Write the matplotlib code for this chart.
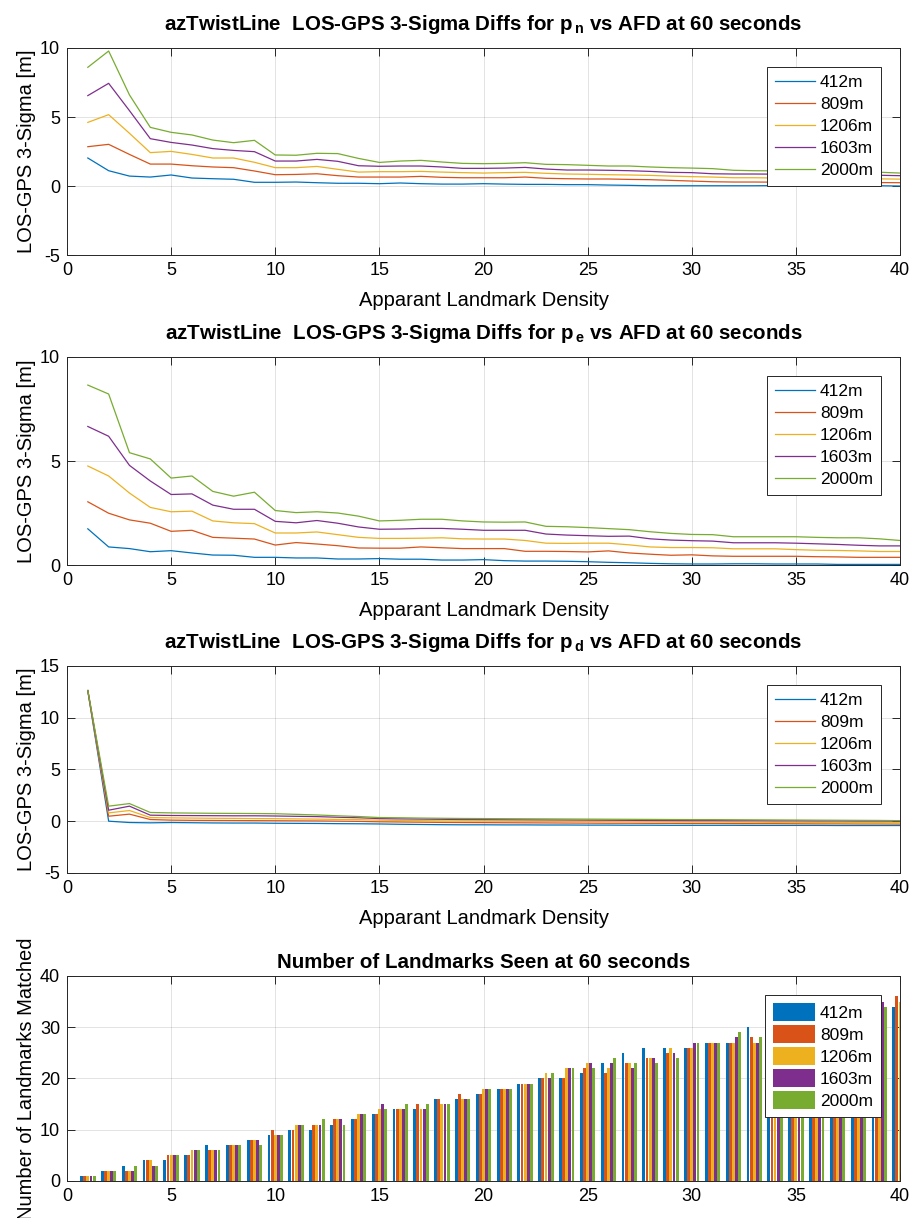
#!/usr/bin/env python3
"""
LOS-GPS 3-sigma diffs vs apparent landmark density (azTwistLine, 60 s).
"""

import numpy as np
import matplotlib
matplotlib.use('Agg')
import matplotlib.pyplot as plt

plt.rcParams['font.family'] = ['Liberation Sans', 'DejaVu Sans']
plt.rcParams['mathtext.fontset'] = 'custom'
plt.rcParams['mathtext.rm'] = 'Liberation Sans'
plt.rcParams['mathtext.bf'] = 'Liberation Sans:bold'
plt.rcParams['axes.unicode_minus'] = False

# ---------------- data ----------------
afd = list(range(1, 41))
labels = ['412m', '809m', '1206m', '1603m', '2000m']
colors = ['#0072BD', '#D95319', '#EDB120', '#7E2F8E', '#77AC30']

# p_n 3-sigma diffs [m]
pn_412 = [2.03, 1.11, 0.72, 0.65, 0.80, 0.58, 0.53, 0.49, 0.27, 0.27, 0.29, 0.24, 0.20, 0.20,
          0.17, 0.22, 0.17, 0.14, 0.14, 0.17, 0.14, 0.12, 0.12, 0.10, 0.10, 0.07, 0.05, 0.02,
          0.02, 0.02, 0.02, 0.02, 0.02, 0.03, 0.03, 0.03, 0.03, 0.02, 0.02, 0.00]
pn_809 = [2.85, 3.02, 2.29, 1.59, 1.59, 1.47, 1.38, 1.33, 1.09, 0.82, 0.84, 0.89, 0.75, 0.65,
          0.65, 0.65, 0.70, 0.63, 0.60, 0.60, 0.60, 0.65, 0.56, 0.53, 0.51, 0.51, 0.48, 0.46,
          0.41, 0.36, 0.31, 0.29, 0.29, 0.28, 0.28, 0.27, 0.26, 0.25, 0.25, 0.24]
pn_1206 = [4.61, 5.17, 3.82, 2.42, 2.51, 2.29, 2.03, 2.03, 1.72, 1.33, 1.33, 1.42, 1.21, 1.01,
           1.04, 1.04, 1.06, 1.01, 0.97, 0.94, 0.97, 0.99, 0.92, 0.87, 0.85, 0.82, 0.80, 0.77,
           0.72, 0.68, 0.65, 0.60, 0.60, 0.58, 0.57, 0.56, 0.55, 0.53, 0.52, 0.50]
pn_1603 = [6.55, 7.44, 5.46, 3.43, 3.16, 2.97, 2.71, 2.58, 2.49, 1.81, 1.81, 1.93, 1.79, 1.47,
           1.43, 1.45, 1.45, 1.38, 1.28, 1.28, 1.30, 1.35, 1.23, 1.16, 1.16, 1.14, 1.11, 1.06,
           0.99, 0.97, 0.89, 0.87, 0.87, 0.86, 0.85, 0.84, 0.82, 0.80, 0.78, 0.75]
pn_2000 = [8.60, 9.78, 6.60, 4.25, 3.89, 3.70, 3.33, 3.14, 3.31, 2.25, 2.23, 2.37, 2.35, 2.00,
           1.71, 1.81, 1.86, 1.74, 1.64, 1.62, 1.64, 1.69, 1.57, 1.55, 1.50, 1.45, 1.45, 1.38,
           1.33, 1.30, 1.26, 1.14, 1.11, 1.10, 1.10, 1.10, 1.08, 1.05, 1.00, 0.94]

# p_e 3-sigma diffs [m]
pe_412 = [1.74, 0.87, 0.79, 0.64, 0.69, 0.58, 0.48, 0.47, 0.37, 0.37, 0.34, 0.34, 0.29, 0.29,
          0.31, 0.28, 0.28, 0.24, 0.24, 0.26, 0.21, 0.19, 0.19, 0.18, 0.16, 0.13, 0.11, 0.08,
          0.06, 0.05, 0.05, 0.06, 0.06, 0.05, 0.05, 0.05, 0.03, 0.03, 0.03, 0.03]
pe_809 = [3.04, 2.49, 2.17, 2.01, 1.62, 1.67, 1.33, 1.29, 1.25, 0.96, 1.08, 1.01, 0.93, 0.82,
          0.81, 0.81, 0.87, 0.83, 0.79, 0.79, 0.79, 0.66, 0.66, 0.65, 0.63, 0.68, 0.58, 0.52,
          0.47, 0.49, 0.44, 0.42, 0.42, 0.42, 0.42, 0.40, 0.39, 0.37, 0.37, 0.37]
pe_1206 = [4.76, 4.28, 3.46, 2.77, 2.56, 2.59, 2.12, 2.03, 1.99, 1.54, 1.54, 1.59, 1.46, 1.33,
           1.28, 1.28, 1.29, 1.31, 1.26, 1.25, 1.25, 1.18, 1.05, 1.04, 1.05, 1.05, 0.97, 0.87,
           0.84, 0.84, 0.83, 0.78, 0.78, 0.78, 0.74, 0.71, 0.70, 0.68, 0.65, 0.65]
pe_1603 = [6.66, 6.19, 4.79, 4.04, 3.39, 3.42, 2.88, 2.68, 2.68, 2.10, 2.03, 2.14, 2.01, 1.83,
           1.72, 1.73, 1.76, 1.76, 1.72, 1.67, 1.67, 1.67, 1.49, 1.44, 1.41, 1.38, 1.39, 1.26,
           1.20, 1.17, 1.15, 1.07, 1.07, 1.07, 1.05, 1.02, 0.99, 0.95, 0.92, 0.92]
pe_2000 = [8.65, 8.22, 5.40, 5.10, 4.18, 4.28, 3.54, 3.31, 3.50, 2.62, 2.52, 2.56, 2.50, 2.35,
           2.12, 2.15, 2.20, 2.20, 2.12, 2.07, 2.06, 2.07, 1.86, 1.84, 1.80, 1.75, 1.70, 1.60,
           1.52, 1.47, 1.46, 1.36, 1.36, 1.36, 1.36, 1.33, 1.31, 1.31, 1.26, 1.18]

# p_d 3-sigma diffs [m]
pd_412 = [12.58, 0.00, -0.13, -0.16, -0.13, -0.15, -0.17, -0.18, -0.18, -0.20, -0.21, -0.22,
          -0.24, -0.25, -0.27, -0.30, -0.32, -0.34, -0.35, -0.35, -0.36, -0.36, -0.37, -0.37,
          -0.38, -0.38, -0.39, -0.39, -0.40, -0.40, -0.40, -0.40, -0.41, -0.41, -0.41, -0.41,
          -0.42, -0.42, -0.42, -0.42]
pd_809 = [12.60, 0.48, 0.68, 0.16, 0.10, 0.08, 0.07, 0.06, 0.05, 0.04, 0.03, 0.02, 0.00,
          -0.02, -0.06, -0.08, -0.10, -0.12, -0.13, -0.14, -0.15, -0.16, -0.17, -0.18, -0.19,
          -0.20, -0.20, -0.21, -0.21, -0.22, -0.22, -0.23, -0.24, -0.24, -0.25, -0.26, -0.26,
          -0.27, -0.27, -0.28]
pd_1206 = [12.61, 0.80, 1.03, 0.35, 0.32, 0.30, 0.28, 0.27, 0.25, 0.24, 0.22, 0.20, 0.17,
           0.15, 0.10, 0.07, 0.05, 0.03, 0.02, 0.01, 0.00, -0.01, -0.02, -0.03, -0.04, -0.05,
           -0.06, -0.06, -0.07, -0.08, -0.08, -0.09, -0.10, -0.11, -0.11, -0.12, -0.13, -0.14,
           -0.14, -0.15]
pd_1603 = [12.62, 1.06, 1.45, 0.58, 0.55, 0.54, 0.53, 0.52, 0.52, 0.50, 0.47, 0.44, 0.38,
           0.33, 0.25, 0.22, 0.20, 0.18, 0.16, 0.15, 0.14, 0.13, 0.12, 0.11, 0.10, 0.09, 0.08,
           0.07, 0.06, 0.05, 0.05, 0.04, 0.04, 0.03, 0.03, 0.02, 0.02, 0.01, 0.01, 0.00]
pd_2000 = [12.63, 1.45, 1.70, 0.84, 0.80, 0.78, 0.76, 0.75, 0.74, 0.72, 0.66, 0.60, 0.52,
           0.45, 0.35, 0.33, 0.30, 0.28, 0.26, 0.25, 0.24, 0.23, 0.22, 0.21, 0.20, 0.19, 0.18,
           0.17, 0.16, 0.15, 0.15, 0.14, 0.13, 0.12, 0.11, 0.10, 0.09, 0.08, 0.07, 0.05]

# number of landmarks matched
nlm_412 = [1, 2, 3, 4, 4, 5, 7, 7, 8, 9, 10, 10, 11, 12, 13, 14, 14, 16, 16, 17,
           18, 19, 20, 20, 21, 23, 25, 26, 26, 26, 27, 27, 30, 31, 31, 32, 33, 33, 34, 34]
nlm_809 = [1, 2, 2, 4, 5, 5, 6, 7, 8, 10, 10, 11, 12, 12, 13, 14, 15, 16, 17, 17,
           18, 19, 20, 20, 22, 21, 23, 24, 25, 26, 27, 27, 28, 29, 30, 31, 32, 34, 33, 36]
nlm_1206 = [1, 2, 2, 4, 5, 6, 6, 7, 8, 9, 11, 11, 12, 13, 14, 14, 14, 15, 16, 18,
            18, 19, 21, 22, 23, 22, 23, 24, 26, 26, 27, 27, 27, 29, 30, 31, 33, 33, 34, 35]
nlm_1603 = [1, 2, 2, 3, 5, 6, 6, 7, 8, 9, 11, 11, 12, 13, 15, 14, 14, 15, 16, 18,
            18, 19, 20, 22, 23, 23, 22, 24, 25, 27, 27, 28, 27, 29, 31, 32, 32, 34, 35, 35]
nlm_2000 = [1, 2, 3, 3, 5, 6, 6, 7, 7, 9, 11, 12, 11, 13, 14, 15, 15, 15, 16, 18,
            18, 19, 21, 22, 22, 24, 23, 23, 24, 27, 27, 29, 28, 30, 30, 31, 33, 33, 34, 36]

GRID = dict(color='#262626', alpha=0.15, linewidth=0.6)
TITLE_FS = 14.8
LABEL_FS = 14.5
TICK_FS = 13
LEG_FS = 12.5


def style_axes(ax):
    """MATLAB-like box, inward ticks on all sides, light grid."""
    for sp in ax.spines.values():
        sp.set_color('#262626')
        sp.set_linewidth(0.7)
    ax.tick_params(direction='in', top=True, right=True, length=6, width=0.7,
                   labelsize=TICK_FS, colors='#262626', labelcolor='black', pad=5)
    ax.grid(True, **GRID)
    ax.set_axisbelow(True)
    ax.set_xlim(0, 40)
    ax.set_xticks(range(0, 41, 5))


def add_legend(ax, **kw):
    leg = ax.legend(loc='upper right', fontsize=LEG_FS, handletextpad=0.3,
                    borderaxespad=1.1, borderpad=0.45, fancybox=False, framealpha=1, **kw)
    leg.get_frame().set_edgecolor('#262626')
    leg.get_frame().set_linewidth(0.7)


def line_panel(ax, series, comp, ylim, yticks):
    for vals, lab, col in zip(series, labels, colors):
        ax.plot(afd, vals, color=col, linewidth=0.9, label=lab)
    style_axes(ax)
    ax.set_ylim(*ylim)
    ax.set_yticks(yticks)
    ax.set_title(r'azTwistLine  LOS-GPS 3-Sigma Diffs for p$_{\,\mathbf{' + comp + r'}}$ vs AFD at 60 seconds',
                 fontsize=TITLE_FS, fontweight='bold', pad=13)
    ax.set_ylabel('LOS-GPS 3-Sigma [m]', fontsize=LABEL_FS, labelpad=3)
    ax.set_xlabel('Apparant Landmark Density', fontsize=LABEL_FS, labelpad=9)
    add_legend(ax, handlelength=2.3, labelspacing=0.4)


fig = plt.figure(figsize=(9.14, 12.18), dpi=100)
left, width = 0.0733, 0.9114
ax1 = fig.add_axes([left, 0.7906, width, 0.1700])
ax2 = fig.add_axes([left, 0.5361, width, 0.1708])
ax3 = fig.add_axes([left, 0.2833, width, 0.1700])
ax4 = fig.add_axes([left, 0.0304, width, 0.1683])

line_panel(ax1, [pn_412, pn_809, pn_1206, pn_1603, pn_2000], 'n', (-5, 10), range(-5, 11, 5))
line_panel(ax2, [pe_412, pe_809, pe_1206, pe_1603, pe_2000], 'e', (0, 10), range(0, 11, 5))
line_panel(ax3, [pd_412, pd_809, pd_1206, pd_1603, pd_2000], 'd', (-5, 15), range(-5, 16, 5))

# ---------- grouped bars ----------
bar_w = 0.15
x = np.array(afd, dtype=float)
for i, (vals, lab, col) in enumerate(zip([nlm_412, nlm_809, nlm_1206, nlm_1603, nlm_2000],
                                          labels, colors)):
    ax4.bar(x + (i - 2) * bar_w, vals, width=bar_w * 0.92, color=col, label=lab, linewidth=0)
style_axes(ax4)
ax4.set_ylim(0, 40)
ax4.set_yticks(range(0, 41, 10))
ax4.set_title('Number of Landmarks Seen at 60 seconds', fontsize=TITLE_FS, fontweight='bold', pad=6)
ax4.set_ylabel('Number of Landmarks Matched', fontsize=LABEL_FS, labelpad=3)
add_legend(ax4, handlelength=2.4, handleheight=1.2, labelspacing=0.25)

plt.savefig('out.png', dpi=100)
plt.close()
